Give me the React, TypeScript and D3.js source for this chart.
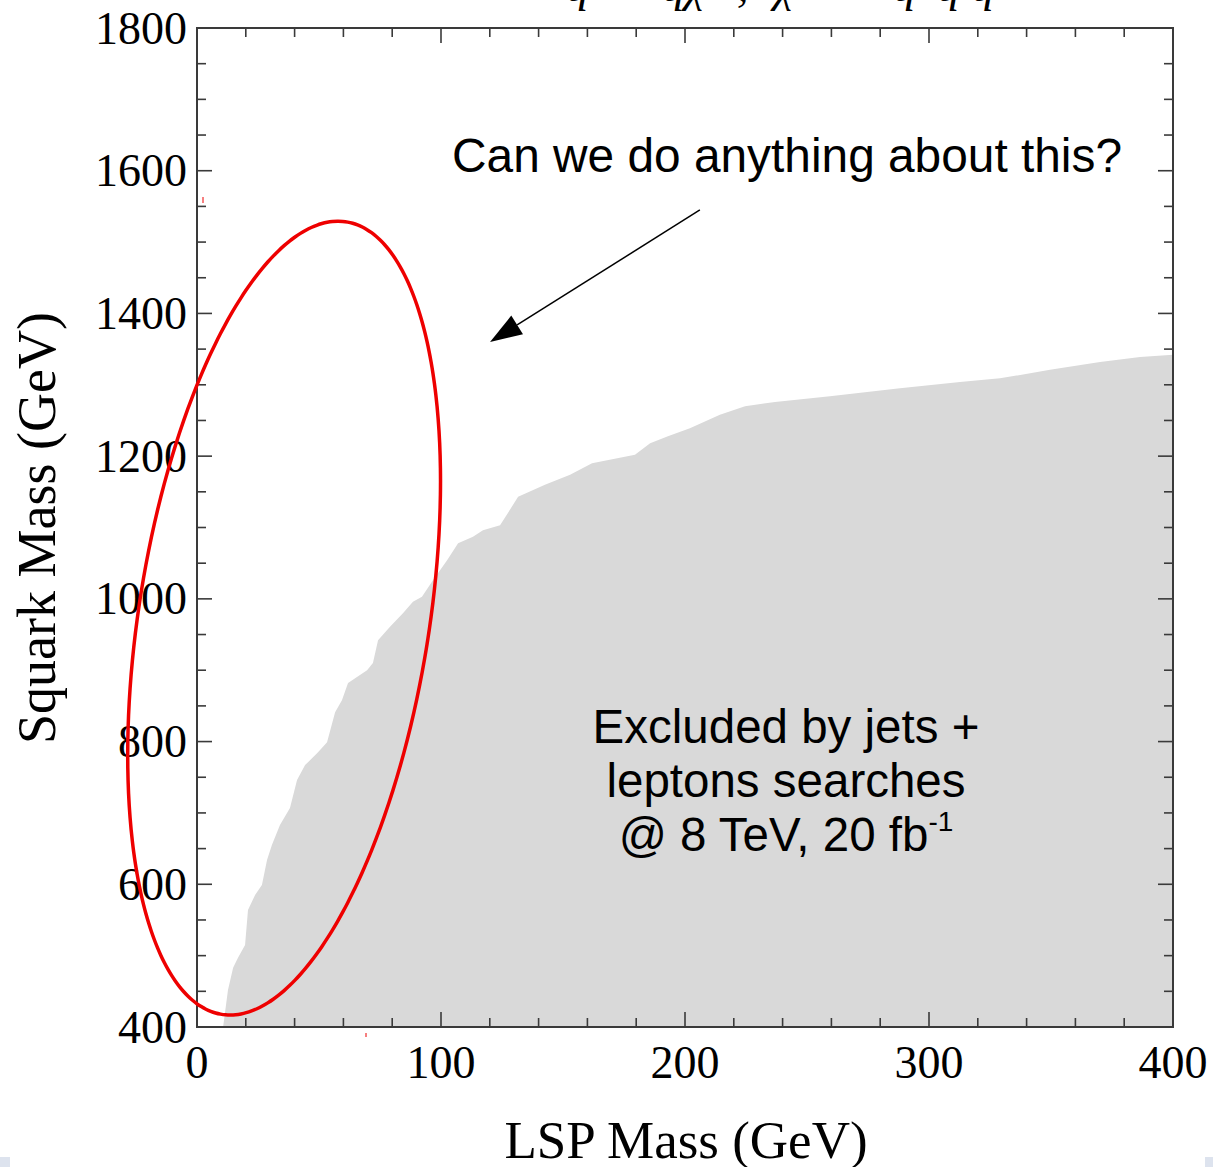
import React from "react";
import * as d3 from "d3";

// Exclusion boundary (LSP mass, squark mass) in GeV
const lspMass = [10.7, 12.7, 14.8, 16.8, 19.7, 20.9, 23.8, 26.6, 28.7, 30.7, 34.0, 38.1, 41.0, 44.3, 49.6, 53.3, 56.6, 59.4, 61.9, 69.7, 72.1, 74.2, 79.1, 84.4, 88.5, 92.2, 96.7, 102.5, 107, 113.1, 117.2, 124.2, 131.6, 142.6, 152.9, 161.9, 179.5, 185.7, 193, 202, 214.3, 224.6, 236.9, 259.4, 288.1, 312.7, 329.1, 349.6, 370.1, 386.5, 400];
const squarkMass = [400, 452, 483, 497, 515, 564, 585, 599, 634, 655, 683, 707, 746, 767, 785, 799, 841, 858, 882, 900, 910, 942, 961, 980, 996, 1003, 1026, 1054, 1078, 1087, 1096, 1103, 1143, 1160, 1174, 1190, 1202, 1218, 1228, 1239, 1258, 1270, 1276, 1284, 1295, 1304, 1309, 1321, 1332, 1339, 1342];

const xMajorTicks = [0, 100, 200, 300, 400];
const yMajorTicks = [400, 600, 800, 1000, 1200, 1400, 1600, 1800];
const xMinorTicks = d3.range(0, 401, 20);
const yMinorTicks = d3.range(400, 1801, 50);

// Ellipse annotation (data space): center and axes
const ellipseCenter = [35.7, 973];
const ellipseAxes = [64.1, 192, 522];
const arrowTail = [206.1, 1545];
const arrowTip = [120.1, 1360];
const annotationText = ["Excluded by jets +", "leptons searches"];

export default function App() {
  const W = 1213, H = 1167;
  const x = d3.scaleLinear().domain([0, 400]).range([197, 1173]);
  const y = d3.scaleLinear().domain([400, 1800]).range([1027, 28]);

  const pts = lspMass.map((m, i) => [m, squarkMass[i]] as [number, number]);
  const area = d3.area<[number, number]>()
    .x(d => x(d[0]))
    .y0(y(400))
    .y1(d => y(d[1]));
  const areaPath = area([...pts]) || "";

  const ell = d3.range(0, 361, 2).map(deg => {
    const t = (deg * Math.PI) / 180;
    return [
      x(ellipseCenter[0] + ellipseAxes[0] * Math.cos(t)),
      y(ellipseCenter[1] + ellipseAxes[1] * Math.cos(t) + ellipseAxes[2] * Math.sin(t)),
    ] as [number, number];
  });
  const ellPath = d3.line().curve(d3.curveCardinalClosed)(ell) || "";

  const tx = x(arrowTip[0]), ty = y(arrowTip[1]);
  const sx = x(arrowTail[0]), sy = y(arrowTail[1]);
  const ang = Math.atan2(ty - sy, tx - sx);
  const hl = 32, hw = 11;
  const bx = tx - hl * Math.cos(ang), by = ty - hl * Math.sin(ang);
  const head = [
    [tx, ty],
    [bx + hw * Math.sin(ang), by - hw * Math.cos(ang)],
    [bx - hw * Math.sin(ang), by + hw * Math.cos(ang)],
  ];

  const frame = "#3a3a3a";
  const serif = "'Liberation Serif', 'DejaVu Serif', serif";
  const sans = "'Liberation Sans', Arial, sans-serif";

  return (
    <svg width={W} height={H} style={{ position: "absolute", left: 0, top: 0, background: "#fff", display: "block" }}>
      <rect x={0} y={0} width={W} height={H} fill="#fff" />
      {/* formula at top, cut off by the image edge as in the original */}
      <g fontFamily={serif} fontStyle="italic" fontSize={46} fill="#000">
        <text x={566} y={1}>q</text>
        <text x={662} y={1}>qχ</text>
        <text x={737} y={1}>,</text>
        <text x={774} y={1}>χ</text>
        <text x={893} y={1}>q</text>
        <text x={937} y={1}>q q</text>
      </g>

      <path d={areaPath} fill="#d9d9d9" />

      {/* ticks */}
      <g stroke={frame} strokeWidth={1.6}>
        {xMinorTicks.map(v => {
          const L = v % 100 === 0 ? 15 : 9;
          return (
            <g key={"x" + v}>
              <line x1={x(v)} x2={x(v)} y1={y(400)} y2={y(400) - L} />
              <line x1={x(v)} x2={x(v)} y1={y(1800)} y2={y(1800) + L} />
            </g>
          );
        })}
        {yMinorTicks.map(v => {
          const L = v % 200 === 0 ? 15 : 9;
          return (
            <g key={"y" + v}>
              <line x1={x(0)} x2={x(0) + L} y1={y(v)} y2={y(v)} />
              <line x1={x(400)} x2={x(400) - L} y1={y(v)} y2={y(v)} />
            </g>
          );
        })}
      </g>
      <rect x={x(0)} y={y(1800)} width={x(400) - x(0)} height={y(400) - y(1800)} fill="none" stroke={frame} strokeWidth={2} />

      {/* tick labels */}
      <g fontFamily={serif} fontSize={46} fill="#000">
        {yMajorTicks.map(v => (
          <text key={v} x={187} y={y(v)} dy="0.34em" textAnchor="end">{v}</text>
        ))}
        {xMajorTicks.map(v => (
          <text key={v} x={x(v)} y={1078} textAnchor="middle">{v}</text>
        ))}
      </g>

      {/* axis titles */}
      <text x={686} y={1158} textAnchor="middle" fontFamily={serif} fontSize={53} fill="#000">LSP Mass (GeV)</text>
      <text transform="translate(55,528) rotate(-90)" textAnchor="middle" fontFamily={serif} fontSize={54} fill="#000">Squark Mass (GeV)</text>

      {/* annotations */}
      <text x={452} y={172} fontFamily="'Liberation Sans Narrow', 'Liberation Sans', Arial, sans-serif" fontSize={48} textLength={670} lengthAdjust="spacingAndGlyphs" fill="#000">Can we do anything about this?</text>
      <line x1={sx} y1={sy} x2={bx} y2={by} stroke="#000" strokeWidth={1.5} />
      <polygon points={head.map(p => p.join(",")).join(" ")} fill="#000" />

      <g fontFamily={sans} fontSize={47.5} fill="#000" textAnchor="middle">
        <text x={786} y={743}>{annotationText[0]}</text>
        <text x={786} y={797}>{annotationText[1]}</text>
        <text x={786} y={851}>@ 8 TeV, 20 fb<tspan fontSize={28} dy={-20}>-1</tspan></text>
      </g>

      <path d={ellPath} fill="none" stroke="#ee0000" strokeWidth={3.5} />
      <line x1={203} x2={203} y1={197} y2={203} stroke="#ee0000" strokeWidth={1} />
      <line x1={366} x2={366} y1={1033} y2={1037} stroke="#ee0000" strokeWidth={1} />

      <rect x={0} y={1157} width={10} height={10} fill="#dde3ee" />
      <rect x={1205} y={1157} width={8} height={10} fill="#dde3ee" />
    </svg>
  );
}
